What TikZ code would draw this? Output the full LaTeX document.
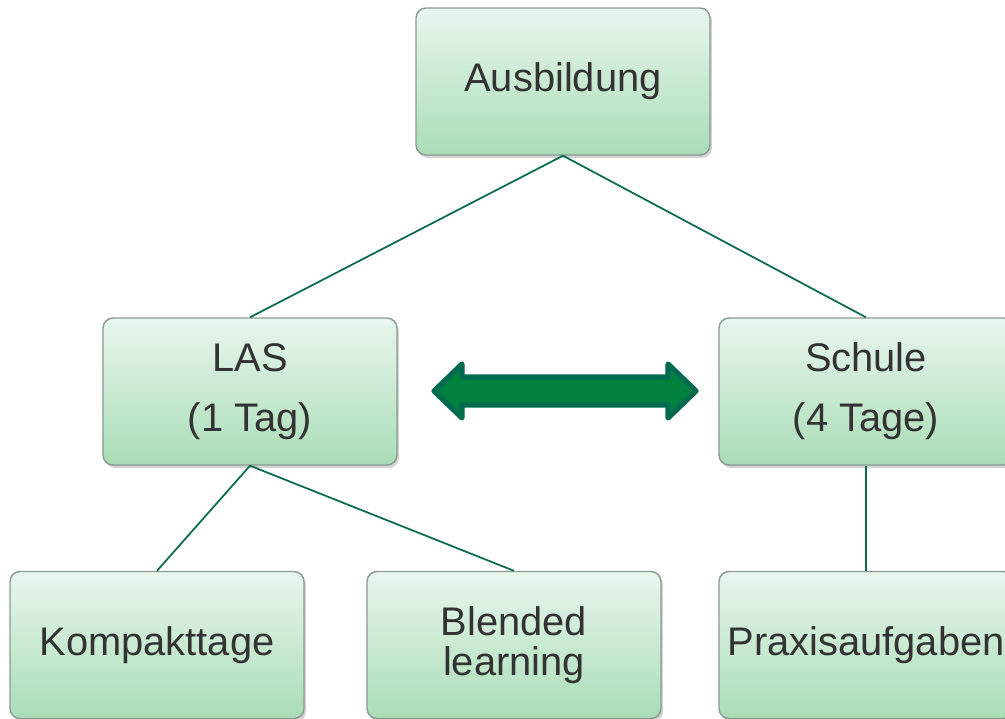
\documentclass[tikz,border=0pt]{standalone}
\usepackage{fontspec}
\setmainfont{Liberation Sans}
\usetikzlibrary{shadows}
\definecolor{linegreen}{HTML}{0B6B50}
\definecolor{arrowfill}{HTML}{00823F}
\definecolor{arrowedge}{HTML}{006A4E}
\definecolor{boxtop}{HTML}{E9F6EE}
\definecolor{boxbottom}{HTML}{A9DDB6}
\definecolor{boxedge}{HTML}{8A9A90}
\definecolor{textgray}{HTML}{333333}
\tikzset{
  box/.style={draw=boxedge, line width=0.8pt, rounded corners=0.2cm,
    top color=boxtop, bottom color=boxbottom,
    drop shadow={shadow xshift=0.04cm, shadow yshift=-0.06cm, opacity=0.35},
    minimum width=5.88cm, minimum height=2.94cm, align=center,
    text=textgray, font=\fontsize{22.7}{34}\selectfont},
  link/.style={draw=linegreen, line width=1pt}
}
\begin{document}
\begin{tikzpicture}[x=0.02cm, y=-0.02cm]
  \useasboundingbox (0,0) rectangle (1005,718);
  % top
  \node[box] (ausb) at (563,81.5) {\raisebox{-0.05cm}{Ausbildung}};
  % middle row
  \node[box] (las) at (250,391.5) {LAS\\(1 Tag)};
  \node[box] (schule) at (866,391.5) {Schule\\(4 Tage)};
  % bottom row
  \node[box] (kompakt) at (157,645) {\raisebox{-0.05cm}{Kompakttage}};
  \node[box, font=\fontsize{22.7}{24}\selectfont] (blended) at (514,645) {\raisebox{-0.05cm}{Blended}\\learning};
  \node[box] (praxis) at (866,645) {\raisebox{-0.05cm}{Praxisaufgaben}};
  % links
  \draw[link] (ausb.south) -- (las.north);
  \draw[link] (ausb.south) -- (schule.north);
  \draw[link] (las.south) -- (kompakt.north);
  \draw[link] (las.south) -- (blended.north);
  \draw[link] (schule.south) -- (praxis.north);
  % double arrow
  \filldraw[fill=arrowfill, draw=arrowedge, line width=3pt, line join=round]
    (434,391) -- (462,364) -- (462,377) -- (668,377) -- (668,364)
    -- (696,391) -- (668,418) -- (668,405) -- (462,405) -- (462,418) -- cycle;
\end{tikzpicture}
\end{document}
